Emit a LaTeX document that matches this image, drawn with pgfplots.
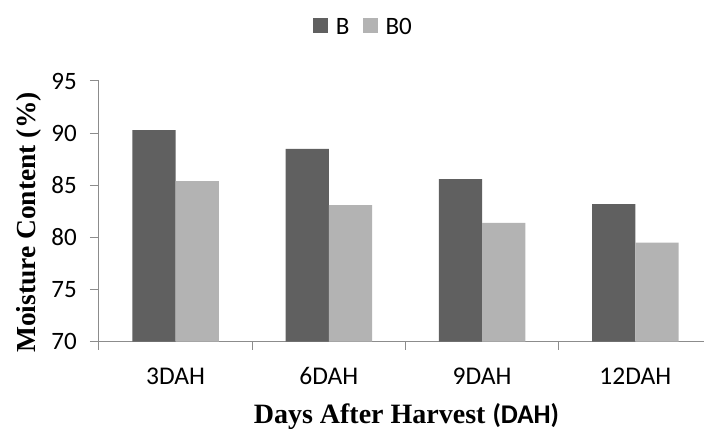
\documentclass[border=0pt]{standalone}
\usepackage{pgfplots}
\pgfplotsset{compat=1.18}
\usepackage{fontspec}
\setmainfont{Carlito}
\newfontfamily\serifbold{Liberation Serif}[UprightFont=* Bold]

\definecolor{barB}{RGB}{96,96,96}
\definecolor{barBzero}{RGB}{179,179,179}
\definecolor{axisgray}{RGB}{140,140,140}

\pgfplotsset{
  sqlegend/.style={legend image code/.code={\fill[##1,draw=none] (0bp,-5bp) rectangle (15bp,10bp);}},
}

\begin{document}
\begin{tikzpicture}
\begin{axis}[
  scale only axis,
  width=613bp, height=260.7bp,
  xmin=-0.5, xmax=3.5,
  ymin=70, ymax=95,
  ytick={70,75,...,95},
  xtick={0,1,2,3},
  xticklabels={3DAH,6DAH,9DAH,12DAH},
  minor xtick={-0.5,0.5,1.5,2.5,3.5},
  axis lines*=left,
  axis line style={axisgray, line width=1bp},
  tick align=outside,
  major tick length=9bp,
  minor tick length=8bp,
  every tick/.style={axisgray, line width=1bp},
  major x tick style={draw=none},
  /pgf/number format/assume math mode=true,
  yticklabel style={font=\fontsize{25bp}{25bp}\selectfont, inner sep=0pt, anchor=east, xshift=-13bp},
  xticklabel style={font=\fontsize{25.5bp}{25.5bp}\selectfont, inner sep=0pt, anchor=north, yshift=-16.6bp},
  ybar=0pt,
  bar width=0.283,
  ylabel={\serifbold\fontsize{27.5bp}{27.5bp}\selectfont Moisture Content (\%)},
  ylabel style={at={(axis description cs:-0.1044,0.457)}, anchor=base, inner sep=0pt},
  xlabel={{\serifbold\fontsize{28bp}{28bp}\selectfont Days After Harvest }{\bfseries\fontsize{27bp}{27bp}\selectfont(DAH)}},
  xlabel style={at={(axis description cs:0.5016,0)}, anchor=base, yshift=-81.5bp, inner sep=0pt},
  legend columns=-1,
  legend style={draw=none, fill=none, at={(axis description cs:0.349,1.205)}, anchor=west,
    font=\fontsize{25bp}{25bp}\selectfont, inner sep=0pt, outer sep=0pt,
    /tikz/every odd column/.append style={column sep=6bp},
    /tikz/every even column/.append style={column sep=11bp}},
]
\addplot[fill=barB, draw=none, sqlegend] coordinates {(0,90.3) (1,88.5) (2,85.6) (3,83.2)};
\addplot[fill=barBzero, draw=none, sqlegend] coordinates {(0,85.4) (1,83.1) (2,81.4) (3,79.5)};
\legend{B,B0}
\end{axis}
\pgfresetboundingbox
\useasboundingbox (-99bp,-88.3bp) rectangle (605bp,341.7bp);
\end{tikzpicture}
\end{document}
